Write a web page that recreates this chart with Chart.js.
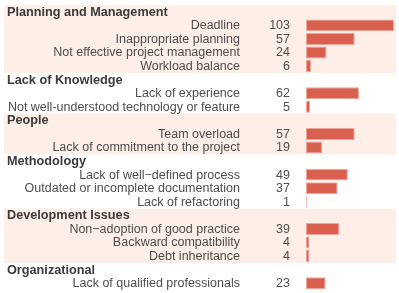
<!DOCTYPE html>
<html>
<head>
<meta charset="utf-8">
<script src="https://cdn.jsdelivr.net/npm/chart.js@4"></script>
<style>
  html, body { margin: 0; padding: 0; background: #fff; }
  #wrap { width: 399px; height: 293px; position: relative; }
</style>
</head>
<body>
<div id="wrap"><canvas id="causesChart"></canvas></div>
<script>
// groups and their items, top to bottom
var groupNames = ['Planning and Management', 'Lack of Knowledge', 'People',
                  'Methodology', 'Development Issues', 'Organizational'];
var itemLabels = ['Deadline', 'Inappropriate planning', 'Not effective project management', 'Workload balance',
                  'Lack of experience', 'Not well-understood technology or feature',
                  'Team overload', 'Lack of commitment to the project',
                  'Lack of well\u2212defined process', 'Outdated or incomplete documentation', 'Lack of refactoring',
                  'Non\u2212adoption of good practice', 'Backward compatibility', 'Debt inheritance',
                  'Lack of qualified professionals'];
var itemValues = [103, 57, 24, 6,
                  62, 5,
                  57, 19,
                  49, 37, 1,
                  39, 4, 4,
                  23];
var itemGroup = [0, 0, 0, 0, 1, 1, 2, 2, 3, 3, 3, 4, 4, 4, 5];

// flatten into rows: a header row per group followed by its items
var rows = [];
groupNames.forEach(function(g, gi) {
    rows.push({ header: true, label: g, group: gi, value: null });
    itemLabels.forEach(function(lab, i) {
        if (itemGroup[i] === gi) rows.push({ header: false, label: lab, group: gi, value: itemValues[i] });
    });
});

var FONT = '"Liberation Sans", Arial, sans-serif';

var tablePlugin = {
    id: 'tableText',
    beforeDatasetsDraw: function(chart) {
        var ctx = chart.ctx, y = chart.scales.y;
        var step = Math.abs(y.getPixelForValue(1) - y.getPixelForValue(0));
        ctx.save();
        ctx.fillStyle = '#fdeee7';
        groupNames.forEach(function(g, gi) {
            if (gi % 2 !== 0) return;
            var idx = [];
            rows.forEach(function(r, ri) { if (r.group === gi) idx.push(ri); });
            var top = y.getPixelForValue(idx[0]) - step / 2;
            var bot = y.getPixelForValue(idx[idx.length - 1]) + step / 2;
            ctx.fillRect(4, top, 392, bot - top);
        });
        ctx.restore();
    },
    afterDatasetsDraw: function(chart) {
        var ctx = chart.ctx, y = chart.scales.y;
        ctx.save();
        ctx.textBaseline = 'middle';
        rows.forEach(function(r, ri) {
            var py = y.getPixelForValue(ri) + 0.5;
            if (r.header) {
                ctx.font = 'bold 12.7px ' + FONT;
                ctx.fillStyle = '#3a3a3a';
                ctx.textAlign = 'left';
                ctx.fillText(r.label, 7, py);
            } else {
                ctx.font = '12.5px ' + FONT;
                ctx.fillStyle = '#4d4d4d';
                ctx.textAlign = 'right';
                ctx.fillText(r.label, 240, py);
                ctx.fillText(String(r.value), 290, py);
            }
        });
        ctx.restore();
    }
};

new Chart(document.getElementById('causesChart').getContext('2d'), {
    type: 'bar',
    data: {
        labels: rows.map(function(r) { return r.label; }),
        datasets: [{
            data: rows.map(function(r) { return r.value; }),
            backgroundColor: '#d9604f',
            borderColor: '#f1a597',
            borderWidth: 1,
            borderSkipped: false,
            barPercentage: 0.88,
            categoryPercentage: 1
        }]
    },
    options: {
        indexAxis: 'y',
        responsive: true,
        maintainAspectRatio: false,
        animation: false,
        layout: { padding: { left: 306, right: 5, top: 5, bottom: 3 } },
        plugins: { legend: { display: false }, tooltip: { enabled: false } },
        scales: {
            x: { display: false, min: 0, max: 103 },
            y: { display: false }
        }
    },
    plugins: [tablePlugin]
});
</script>
</body>
</html>
